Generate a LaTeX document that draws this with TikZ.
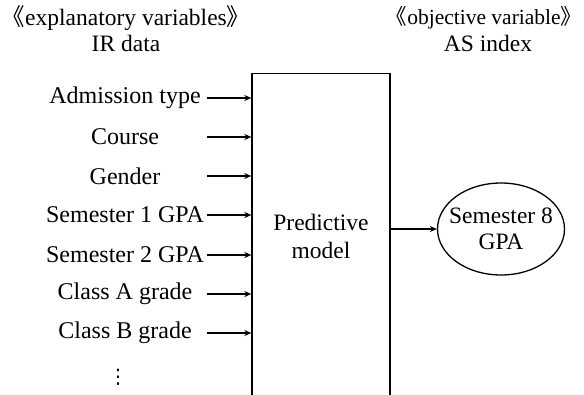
\documentclass[tikz,border=0pt]{standalone}
\usepackage{fontspec}
\setmainfont{Liberation Serif}
\newfontfamily\cjk{Noto Sans CJK SC}
\newfontfamily\dv{DejaVu Sans}
\usetikzlibrary{shapes.geometric,arrows.meta}
\begin{document}
\begin{tikzpicture}[x=1pt,y=-1pt,
  lbl/.style={font=\fontsize{24}{28}\selectfont, inner sep=0pt, anchor=center},
  hdr/.style={font=\fontsize{23.5}{28}\selectfont, inner sep=0pt, anchor=center},
  arr/.style={line width=1.2pt, -{Stealth[length=7pt,width=6pt]}},
  boxst/.style={draw, line width=1.3pt, minimum width=138pt, minimum height=340pt, inner sep=0pt}]
\clip (0,0) rectangle (584,394);
\fill[white] (0,0) rectangle (584,394);
% headers
\node[hdr] (h1) at (126,18) {{\cjk 《}explanatory variables{\cjk 》}};
\node[hdr] (h2) at (126,43) {IR data};
\node[hdr, font=\fontsize{21.5}{28}\selectfont] (h3) at (484,18) {{\cjk 《}objective variable{\cjk 》}};
\node[hdr] (h4) at (488,43) {AS index};
% box
\node[boxst, anchor=north] (box) at (321,73) {};
\node[lbl, align=center, font=\fontsize{23.5}{28}\selectfont] (pm) at (321,236) {Predictive\\model};
% inputs
\foreach \i/\t/\y in {1/Admission type/98, 2/Course/137, 3/Gender/176, 4/Semester 1 GPA/215, 5/Semester 2 GPA/255, 6/Class A grade/294, 7/Class B grade/333}{
  \node[lbl] (in\i) at (125,\y) {\t};
  \coordinate (s\i) at (207,\y);
  \draw[arr] (s\i) -- (box.west |- s\i);
}
\node[inner sep=0pt, font=\dv\fontsize{20}{24}\selectfont] (dots) at (118,377) {⋮};
% output
\node[draw, ellipse, line width=1.3pt, minimum width=127pt, minimum height=92pt, inner xsep=-8pt, inner ysep=0pt, align=center, font=\fontsize{23.5}{26}\selectfont] (out) at (501,229) {Semester 8\\GPA};
\draw[arr] (box.east |- out) -- (out.west);
\end{tikzpicture}
\end{document}
